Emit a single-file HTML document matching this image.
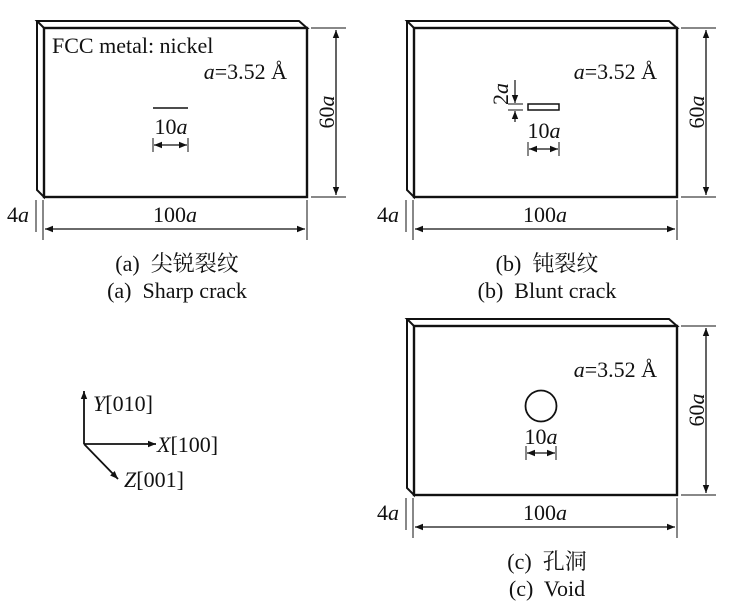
<!DOCTYPE html>
<html><head><meta charset="utf-8"><style>
html,body{margin:0;padding:0;background:#fff;}
svg{display:block;}
text{font-family:"Liberation Serif","Noto Serif CJK SC","Noto Sans CJK SC",serif;fill:#111;white-space:pre;}
</style></head><body>
<svg width="729" height="604" viewBox="0 0 729 604" xmlns="http://www.w3.org/2000/svg">
<defs>
<marker id="ar" viewBox="0 0 10 10" refX="10" refY="5" markerWidth="13" markerHeight="8" orient="auto-start-reverse" markerUnits="userSpaceOnUse"><path d="M0,1 L10,5 L0,9 z" fill="#111"/></marker>
<g id="plate">
<path d="M37,21 L299,21 L307,28 L44,28 Z M37,21 L37,190 L44,197 L44,28" fill="none" stroke="#111" stroke-width="2"/>
<rect x="44" y="28" width="263" height="169" fill="none" stroke="#111" stroke-width="2.4"/>
<line x1="311" y1="28" x2="346" y2="28" stroke="#111" stroke-width="1"/>
<line x1="311" y1="197" x2="346" y2="197" stroke="#111" stroke-width="1"/>
<line x1="336" y1="30" x2="336" y2="195" stroke="#111" stroke-width="1.3" marker-start="url(#ar)" marker-end="url(#ar)"/>
<text transform="translate(334,112) rotate(-90)" font-size="22" text-anchor="middle">60<tspan font-style="italic">a</tspan></text>
<line x1="43" y1="200" x2="43" y2="240" stroke="#111" stroke-width="1"/>
<line x1="36" y1="200" x2="36" y2="232" stroke="#111" stroke-width="1"/>
<line x1="307" y1="200" x2="307" y2="240" stroke="#111" stroke-width="1"/>
<line x1="45" y1="229" x2="305" y2="229" stroke="#111" stroke-width="1.3" marker-start="url(#ar)" marker-end="url(#ar)"/>
<text x="175" y="222" font-size="22" text-anchor="middle">100<tspan font-style="italic">a</tspan></text>
<text x="7" y="222" font-size="22">4<tspan font-style="italic">a</tspan></text>
<text x="287" y="79" font-size="22" text-anchor="end"><tspan font-style="italic">a</tspan>=3.52 Å</text>
</g>
</defs>

<use href="#plate"/>
<text x="52" y="53" font-size="22">FCC metal: nickel</text>
<line x1="153" y1="108" x2="188" y2="108" stroke="#111" stroke-width="1.6"/>
<text x="171" y="134" font-size="22" text-anchor="middle">10<tspan font-style="italic">a</tspan></text>
<line x1="153" y1="138" x2="153" y2="152" stroke="#111" stroke-width="1"/>
<line x1="188" y1="138" x2="188" y2="152" stroke="#111" stroke-width="1"/>
<line x1="154" y1="145" x2="187" y2="145" stroke="#111" stroke-width="1.3" marker-start="url(#ar)" marker-end="url(#ar)"/>
<text x="177" y="271" font-size="22" text-anchor="middle">(a)  尖锐裂纹</text>
<text x="177" y="298" font-size="22" text-anchor="middle">(a)  Sharp crack</text>

<use href="#plate" transform="translate(370,0)"/>
<rect x="528" y="104" width="31" height="6" fill="none" stroke="#111" stroke-width="1.5"/>
<line x1="508" y1="104" x2="523" y2="104" stroke="#111" stroke-width="1"/>
<line x1="508" y1="110" x2="523" y2="110" stroke="#111" stroke-width="1"/>
<line x1="515" y1="80" x2="515" y2="103" stroke="#111" stroke-width="1.2" marker-end="url(#ar)"/>
<line x1="515" y1="122" x2="515" y2="111" stroke="#111" stroke-width="1.2" marker-end="url(#ar)"/>
<text transform="translate(508,94) rotate(-90)" font-size="22" text-anchor="middle">2<tspan font-style="italic">a</tspan></text>
<text x="544" y="138" font-size="22" text-anchor="middle">10<tspan font-style="italic">a</tspan></text>
<line x1="528" y1="142" x2="528" y2="156" stroke="#111" stroke-width="1"/>
<line x1="559" y1="142" x2="559" y2="156" stroke="#111" stroke-width="1"/>
<line x1="529" y1="149" x2="558" y2="149" stroke="#111" stroke-width="1.3" marker-start="url(#ar)" marker-end="url(#ar)"/>
<text x="547" y="271" font-size="22" text-anchor="middle">(b)  钝裂纹</text>
<text x="547" y="298" font-size="22" text-anchor="middle">(b)  Blunt crack</text>

<use href="#plate" transform="translate(370,298)"/>
<circle cx="541" cy="406" r="15.5" fill="none" stroke="#111" stroke-width="1.8"/>
<text x="541" y="444" font-size="22" text-anchor="middle">10<tspan font-style="italic">a</tspan></text>
<line x1="526" y1="446" x2="526" y2="460" stroke="#111" stroke-width="1"/>
<line x1="556" y1="446" x2="556" y2="460" stroke="#111" stroke-width="1"/>
<line x1="527" y1="453" x2="555" y2="453" stroke="#111" stroke-width="1.3" marker-start="url(#ar)" marker-end="url(#ar)"/>
<text x="547" y="569" font-size="22" text-anchor="middle">(c)  孔洞</text>
<text x="547" y="596" font-size="22" text-anchor="middle">(c)  Void</text>

<line x1="84" y1="444" x2="84" y2="391" stroke="#111" stroke-width="1.8" marker-end="url(#ar)"/>
<line x1="84" y1="444" x2="156" y2="444" stroke="#111" stroke-width="1.8" marker-end="url(#ar)"/>
<line x1="84" y1="444" x2="118" y2="479" stroke="#111" stroke-width="1.8" marker-end="url(#ar)"/>
<text x="93" y="411" font-size="22"><tspan font-style="italic">Y</tspan>[010]</text>
<text x="157" y="452" font-size="22"><tspan font-style="italic">X</tspan>[100]</text>
<text x="124" y="487" font-size="22"><tspan font-style="italic">Z</tspan>[001]</text>
</svg>
</body></html>
